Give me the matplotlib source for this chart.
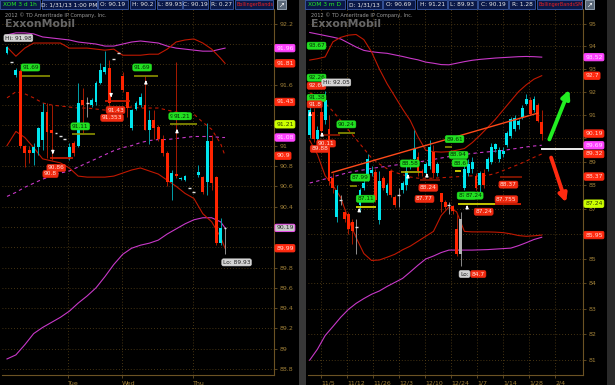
import math
import matplotlib
matplotlib.use('Agg')
import matplotlib.pyplot as plt
from matplotlib.patches import Rectangle
from matplotlib.ticker import FixedLocator, FuncFormatter, NullLocator

# ---------------- XOM 3 d 1h (left) ----------------
l_open = [91.91, 91.82, 91.70, 91.73, 91.00, 90.96, 90.93, 90.99, 91.06, 91.33,
          91.15, 91.12, 91.09, 91.07, 90.89, 91.03, 91.00, 91.45, 91.42, 91.40,
          91.43, 91.62, 91.72, 91.76, 91.85, 91.91, 91.69, 91.53, 91.17, 91.36,
          91.40, 91.40, 91.15, 91.25, 91.18, 91.07, 90.93, 90.64, 90.72, 90.67,
          90.66, 90.58, 90.54, 90.71, 90.69, 90.64, 91.05, 90.69, 90.04, 90.19]
l_close = [91.97, 91.82, 91.74, 91.00, 90.93, 90.93, 90.99, 91.17, 91.33, 91.13,
           91.12, 91.12, 91.09, 91.07, 90.99, 90.93, 91.42, 91.40, 91.42, 91.45,
           91.62, 91.74, 91.77, 91.42, 91.85, 91.91, 91.55, 91.37, 91.35, 91.42,
           91.48, 91.15, 91.25, 91.17, 91.07, 90.93, 90.64, 90.73, 90.70, 90.68,
           90.70, 90.58, 90.54, 90.74, 90.54, 91.05, 90.63, 90.04, 90.19, 90.19]
l_high = [91.98, 91.82, 91.76, 91.75, 91.01, 91.00, 91.03, 91.18, 91.42, 91.42,
          91.40, 91.12, 91.09, 91.07, 91.03, 91.05, 91.62, 91.57, 91.48, 91.47,
          91.64, 91.81, 91.93, 91.84, 91.85, 91.91, 91.72, 91.53, 91.36, 91.44,
          91.52, 91.69, 91.35, 91.35, 91.20, 91.10, 90.95, 90.76, 91.82, 90.69,
          90.71, 90.58, 90.54, 90.81, 90.70, 91.22, 91.10, 90.70, 90.29, 90.20]
l_low = [91.90, 91.82, 91.68, 90.98, 90.79, 90.83, 90.81, 90.91, 90.96, 90.88,
         90.86, 91.12, 91.09, 91.07, 90.86, 90.90, 90.99, 91.12, 91.28, 91.38,
         91.40, 91.61, 91.71, 91.35, 91.85, 91.91, 91.53, 91.28, 91.15, 91.35,
         91.38, 91.15, 91.02, 91.07, 91.05, 90.90, 90.60, 90.46, 90.68, 90.66,
         90.65, 90.58, 90.54, 90.69, 90.52, 90.51, 90.56, 90.02, 90.02, 89.93]

l_band_x = list(range(0, 49, 2)) + [49]
l_red_up = [91.97, 91.88, 91.96, 92.01, 92.01, 92.01, 92.01, 91.96, 91.96, 91.96, 91.95, 91.94, 91.95,
            91.89, 91.89, 91.89, 91.90, 91.90, 91.95, 92.02, 92.04, 92.05, 92.01, 91.95, 91.86, 91.81]
l_red_mid = [91.47, 91.53, 91.51, 91.47, 91.42, 91.40, 91.39, 91.38, 91.37, 91.37, 91.36, 91.35, 91.35,
             91.37, 91.38, 91.37, 91.37, 91.37, 91.35, 91.33, 91.32, 91.31, 91.23, 91.16, 91.02, 90.90]
l_red_lo = [91.00, 91.14, 91.08, 90.98, 90.87, 90.85, 90.83, 90.78, 90.70, 90.69, 90.69, 90.69, 90.70,
            90.73, 90.76, 90.78, 90.75, 90.72, 90.66, 90.60, 90.53, 90.48, 90.33, 90.25, 90.10, 89.99]
l_mag_up = [92.09, 92.11, 92.11, 92.10, 92.07, 92.06, 92.05, 92.04, 92.02, 92.01, 92.00, 91.98, 91.98,
            92.00, 92.02, 92.03, 92.02, 92.01, 91.98, 91.96, 91.95, 91.94, 91.93, 91.93, 91.95, 91.96]
l_mag_mid = [90.50, 90.54, 90.59, 90.63, 90.67, 90.70, 90.73, 90.75, 90.79, 90.83, 90.87, 90.91, 90.95,
             90.98, 91.00, 91.03, 91.05, 91.06, 91.06, 91.07, 91.08, 91.09, 91.09, 91.09, 91.08, 91.08]
l_mag_lo = [88.90, 88.94, 89.04, 89.15, 89.21, 89.26, 89.31, 89.37, 89.45, 89.52, 89.60, 89.71, 89.83,
            89.93, 89.99, 90.02, 90.04, 90.07, 90.13, 90.18, 90.23, 90.27, 90.29, 90.29, 90.25, 90.19]

l_yticks = [88.8, 89, 89.2, 89.4, 89.6, 89.8, 90, 90.2, 90.4, 90.6, 90.8, 91, 91.2, 91.4, 91.6, 91.8, 92, 92.2]
l_xlabels = ['Tue', 'Wed', 'Thu']
l_xticks = [13.7, 25.8, 41.8]

l_tags = [('91.69', 3.4, 'hi'), ('91.11', 14.6, 'hi'), ('91.69', 28.5, 'hi'),
          ('91.21', 36.6, 'hi'), ('91.21', 37.5, 'hi'),
          ('91.43', 22.5, 'lo'), ('91.353', 21.3, 'lo'), ('90.86', 9.2, 'lo'), ('90.8', 8.3, 'lo')]
l_levels = [(91.69, 3.4, 9.7, '#8c9200'), (91.11, 14.6, 19.8, '#8c9200'), (91.69, 28.5, 34.0, '#8c9200'),
            (91.21, 36.6, 42.7, '#8c9200'), (91.44, 22.0, 27.6, '#d41c00'), (90.88, 9.7, 14.8, '#d41c00')]
l_arrows = [(31.2, 91.67, 1), (38.2, 91.19, 1), (23.4, 91.45, -1), (10.3, 90.89, -1)]
l_axis = [(91.96, 'mag'), (91.81, 'red'), (91.43, 'red'), (91.21, 'yel'),
          (91.08, 'mag'), (90.9, 'red'), (90.19, 'grey'), (89.99, 'red')]

# ---------------- XOM 3 m D (right) ----------------
r_open = [90.15, 91.10, 89.94, 91.10, 90.78, 90.40, 88.30, 86.70, 87.40, 86.90,
          86.80, 86.50, 86.30, 87.20, 87.90, 88.40, 88.50, 88.55, 86.56, 88.30,
          87.70, 88.60, 87.50, 87.60, 87.80, 88.00, 88.80, 89.10, 89.20, 88.60,
          88.50, 88.80, 89.40, 88.50, 87.70, 87.30, 87.20, 87.15, 86.20, 85.20,
          87.90, 88.50, 88.70, 88.40, 88.00, 88.50, 88.70, 89.00, 89.55, 89.10,
          89.30, 89.70, 90.10, 90.40, 90.55, 90.90, 91.45, 91.65, 91.20, 91.40,
          90.69]
r_close = [91.20, 89.94, 90.36, 90.30, 91.64, 88.20, 87.90, 87.80, 87.40, 86.60,
           86.20, 86.10, 86.30, 87.80, 88.10, 89.10, 88.65, 87.40, 88.20, 87.90,
           88.00, 87.60, 87.20, 87.60, 88.10, 88.60, 89.05, 89.53, 88.60, 88.50,
           88.90, 89.60, 88.50, 88.90, 87.30, 87.10, 87.20, 86.95, 85.20, 86.60,
           88.70, 88.90, 89.00, 87.90, 88.50, 88.00, 89.10, 89.60, 89.75, 89.50,
           89.45, 90.20, 90.80, 90.85, 90.75, 91.30, 91.70, 91.05, 91.70, 90.75,
           90.19]
r_high = [91.40, 91.30, 90.50, 91.60, 92.05, 91.00, 88.50, 88.00, 87.60, 87.00,
          86.90, 86.60, 86.60, 87.90, 88.30, 89.30, 88.80, 88.70, 88.60, 88.40,
          88.10, 88.70, 87.60, 87.90, 88.20, 88.90, 89.10, 90.35, 89.40, 88.70,
          89.00, 89.90, 89.70, 89.00, 87.70, 87.40, 87.30, 87.20, 86.80, 86.90,
          89.00, 89.10, 89.20, 88.50, 88.60, 88.70, 89.20, 89.80, 89.80, 89.60,
          89.60, 90.30, 90.90, 91.00, 90.80, 91.40, 91.90, 91.75, 91.80, 91.50,
          91.21]
r_low = [90.00, 89.85, 89.80, 90.20, 90.60, 88.00, 87.70, 86.50, 87.20, 86.50,
         86.00, 85.60, 85.20, 86.90, 87.80, 88.20, 88.40, 87.30, 86.40, 87.80,
         87.60, 87.50, 87.10, 87.10, 87.70, 87.80, 88.70, 89.00, 88.40, 88.40,
         88.40, 88.70, 88.30, 88.40, 86.90, 87.00, 86.80, 86.80, 85.10, 84.70,
         87.80, 88.40, 88.50, 87.80, 87.50, 87.90, 88.60, 88.90, 89.40, 89.00,
         89.20, 89.60, 90.00, 90.30, 90.40, 90.80, 91.40, 91.00, 91.10, 90.70,
         89.93]
r_grey = [39]

r_band_x = list(range(0, 61, 2))
r_red_up = [93.39, 93.45, 93.53, 94.20, 94.40, 94.50, 94.53, 94.30, 93.75, 93.00, 92.35, 91.80, 91.25, 90.75, 90.05, 89.48,
            89.42, 89.40, 89.42, 89.48, 89.55, 89.80, 90.11, 90.45, 90.80, 91.20, 91.60, 92.00, 92.30, 92.55, 92.70]
r_red_mid = [91.95, 91.80, 91.50, 91.15, 90.75, 90.35, 89.95, 89.55, 89.15, 88.90, 88.70, 88.55, 88.45, 88.35, 88.30, 88.30,
             88.30, 88.32, 88.34, 88.36, 88.38, 88.40, 88.40, 88.42, 88.50, 88.62, 88.75, 88.88, 89.02, 89.18, 89.32]
r_red_lo = [89.90, 89.30, 88.40, 88.00, 87.50, 86.60, 85.85, 85.20, 84.92, 84.94, 85.05, 85.17, 85.35, 85.50, 85.70, 85.90,
            86.10, 86.75, 87.10, 86.90, 86.10, 86.08, 86.08, 86.08, 86.07, 86.05, 86.00, 85.93, 85.90, 85.92, 85.95]
r_mag_up = [94.62, 94.55, 94.48, 94.41, 94.33, 94.15, 93.97, 93.82, 93.76, 93.72, 93.69, 93.62, 93.55, 93.47, 93.40, 93.30,
            93.25, 93.19, 93.18, 93.25, 93.32, 93.38, 93.42, 93.45, 93.48, 93.50, 93.52, 93.54, 93.55, 93.54, 93.52]
r_mag_mid = [88.10, 88.18, 88.27, 88.36, 88.45, 88.54, 88.60, 88.65, 88.71, 88.76, 88.80, 88.85, 88.89, 88.93, 88.98, 89.03,
             89.09, 89.15, 89.21, 89.27, 89.30, 89.34, 89.38, 89.41, 89.44, 89.47, 89.52, 89.57, 89.62, 89.66, 89.69]
r_mag_lo = [81.00, 81.42, 81.95, 82.30, 82.66, 82.97, 83.21, 83.40, 83.57, 83.70, 83.88, 84.04, 84.20, 84.46, 84.73, 84.98,
            85.10, 85.24, 85.34, 85.34, 85.34, 85.34, 85.35, 85.36, 85.38, 85.40, 85.42, 85.52, 85.64, 85.77, 85.86]

r_yticks = list(range(81, 96))
r_xlabels = ['11/5', '11/12', '11/26', '12/3', '12/10', '12/24', '1/7', '1/14', '1/28', '2/4']
r_xticks = [2.92 + 6.724 * k for k in range(len(r_xlabels))]

r_tags = [('93.67', -0.4, 'hi'), ('92.26', -0.4, 'hi'), ('92.61', -0.4, 'lo'), ('91.38', -0.4, 'hi'),
          ('91.8', -0.4, 'lo'), ('90.24', 7.3, 'hi'), ('90.11', 2.1, 'lo'), ('89.88', 0.4, 'lo'),
          ('87.99', 10.9, 'hi'), ('87.11', 12.3, 'hi'), ('88.58', 23.7, 'hi'), ('88.24', 28.5, 'lo'),
          ('87.77', 27.5, 'lo'), ('89.61', 35.3, 'hi'), ('88.94', 36.3, 'hi'), ('88.6', 37.1, 'hi'),
          ('87.24', 38.4, 'hi'), ('87.24', 40.2, 'hi'), ('87.24', 42.8, 'lo'), ('88.37', 49.2, 'lo'),
          ('87.755', 48.2, 'lo'), ('84.7', 41.9, 'lo')]
r_levels = [(90.23, 7.3, 11.7, '#8c9200'), (90.11, 2.7, 7.8, '#901800'), (87.99, 10.5, 12.2, '#8c9200'),
            (87.11, 12.0, 17.2, '#e8e800'), (88.58, 23.7, 28.4, '#b0b000'), (88.24, 28.5, 33.7, '#901800'),
            (89.61, 35.0, 36.9, '#8c9200'), (88.6, 37.6, 39.0, '#e8e800'), (87.24, 38.4, 48.0, '#e8e800'),
            (87.24, 48.0, 54.6, '#e82000'), (88.37, 49.2, 54.9, '#901800')]
r_arrows = [(0.1, 91.25, 1), (3.2, 90.36, 1), (12.8, 87.17, 1), (25.4, 88.58, 1), (30.3, 88.62, 1), (40.7, 87.29, 1)]
r_axis = [(93.52, 'mag'), (92.7, 'red'), (90.19, 'red'), (89.69, 'mag'),
          (89.32, 'red'), (88.37, 'red'), (87.24, 'yel'), (85.95, 'red')]

hdr_left = [('XOM 3 d 1h', 0, 40), ('D: 1/31/13 1:00 PM', 42, 97), ('O: 90.19', 98, 128), ('H: 90.2', 130, 155),
            ('L: 89.93', 157, 182), ('C: 90.19', 183, 208), ('R: 0.27', 210, 233), ('BollingerBands', 235, 273)]
hdr_right = [('XOM 3 m D', 305, 345), ('D: 1/31/13', 347, 382), ('O: 90.69', 383, 415), ('H: 91.21', 417, 447),
             ('L: 89.93', 448, 477), ('C: 90.19', 478, 508), ('R: 1.28', 509, 535), ('BollingerBandsSM', 537, 582)]

W, H = 615, 385
fig = plt.figure(figsize=(6.15, 3.85), dpi=100, facecolor='black')


def px_axes(x0, y0, x1, y1):
    return fig.add_axes([x0 / W, (H - y1) / H, (x1 - x0) / W, (y1 - y0) / H])


def style(ax, yticks, xticks, xlabels, covered):
    ax.set_facecolor('black')
    for s in ['top', 'left']:
        ax.spines[s].set_visible(False)
    for s in ['right', 'bottom']:
        ax.spines[s].set_color('#6b5224')
        ax.spines[s].set_linewidth(0.8)
    ax.yaxis.tick_right()
    ax.yaxis.set_major_locator(FixedLocator(yticks))
    ax.yaxis.set_minor_locator(NullLocator())
    # tick labels that sit under a price box are not shown
    ax.yaxis.set_major_formatter(FuncFormatter(lambda v, p: '' if covered(v) else '%g' % v))
    ax.set_xticks(xticks)
    ax.set_xticklabels(xlabels)
    for t in ax.get_xticklabels():
        t.set_ha('left')
    ax.tick_params(colors='#6b5224', labelcolor='#a08038', labelsize=4.5, length=2.5, width=0.6, pad=1.5)
    ax.grid(True, color='#5c4519', ls=(0, (1, 2.5)), lw=0.6)
    ax.set_axisbelow(True)


def candles(ax, o, h, l, c, w, grey=()):
    for i in range(len(o)):
        if i in grey:
            body, wick = '#b4b4b4', '#8a8a8a'
        elif c[i] > o[i]:
            body, wick = '#00e5ee', '#00a0aa'
        elif c[i] < o[i]:
            body, wick = '#ff2400', '#a81a00'
        else:
            body, wick = '#e0e0e0', '#909090'
        ax.vlines(i, l[i], h[i], color=wick, lw=0.7, zorder=3)
        lo, hi = min(o[i], c[i]), max(o[i], c[i])
        if hi - lo < 0.005:
            ax.hlines(o[i], i - w / 2, i + w / 2, color=body, lw=1.0, zorder=4)
        else:
            ax.add_patch(Rectangle((i - w / 2, lo), w, hi - lo, fc=body, ec='none', zorder=4))


def bands(ax, x, up, mid, lo, color):
    ax.plot(x, up, color=color, lw=0.8, zorder=2)
    ax.plot(x, mid, color=color, lw=0.8, ls=(0, (3, 3)), zorder=2)
    ax.plot(x, lo, color=color, lw=0.8, zorder=2)


TAGS = {'hi': ('#22e022', '#053005', 1), 'lo': ('#f02a10', '#ffe0d8', -1),
        'Hi': ('#d4d4d4', '#202020', 1), 'Lo': ('#d4d4d4', '#202020', -1)}


def tag(ax, text, x, level, kind):
    fc, tc, d = TAGS[kind]
    ax.annotate(text, xy=(x, level), xytext=(0, d * 5.8), textcoords='offset points',
                ha='left', va='center', fontsize=4.2, color=tc, zorder=8, annotation_clip=False,
                bbox=dict(boxstyle='round,pad=0.18,rounding_size=0.3', fc=fc, ec=fc, lw=0.4))


AXIS = {'mag': ('#ff44ff', '#ffe0ff', '#ff44ff'), 'red': ('#ff2a10', '#ffd8d0', '#ff2a10'),
        'yel': ('#ccff00', '#304000', '#ccff00'), 'grey': ('#c8c8c8', '#303030', '#ff44ff')}


def axis_box(ax, price, kind):
    fc, tc, ec = AXIS[kind]
    ax.text(1.008, price, '%g' % price, transform=ax.get_yaxis_transform(), fontsize=4.4,
            color=tc, ha='left', va='center', clip_on=False, zorder=10,
            bbox=dict(boxstyle='round,pad=0.2,rounding_size=0.25', fc=fc, ec=ec, lw=0.6))


def small_arrow(ax, x, tip, d):
    ax.annotate('', xy=(x, tip), xytext=(0, -5 * d), textcoords='offset points', zorder=7,
                arrowprops=dict(arrowstyle='-|>', color='white', lw=0.9, mutation_scale=4))


# ---- left panel ----
ax1 = px_axes(2, 9, 274, 375)
style(ax1, l_yticks, l_xticks, l_xlabels,
      lambda v: any(abs(v - p) * 101.6 < 5.5 for p, k in l_axis))
ax1.set_xlim(-1.124, 60.0)
ax1.set_ylim(88.742, 92.345)
bands(ax1, l_band_x, l_mag_up, l_mag_mid, l_mag_lo, '#c838c8')
bands(ax1, l_band_x, l_red_up, l_red_mid, l_red_lo, '#c01800')
candles(ax1, l_open, l_high, l_low, l_close, 0.65)
for lev, x0, x1, col in l_levels:
    ax1.hlines(lev, x0, x1, color=col, lw=1.2, zorder=5)
for txt, x, kind in l_tags:
    tag(ax1, txt, x, float(txt), kind)
tag(ax1, 'Hi: 91.98', -0.45, 91.98, 'Hi')
tag(ax1, 'Lo: 89.93', 48.5, 89.93, 'Lo')
for x, tip, d in l_arrows:
    small_arrow(ax1, x, tip, d)
for p, k in l_axis:
    axis_box(ax1, p, k)

# ---- right panel ----
ax2 = px_axes(308, 9, 583, 375)
ax2.set_yscale('log')
style(ax2, r_yticks, r_xticks, r_xlabels,
      lambda v: any(abs(math.log(v / p)) * 2108 < 5.5 for p, k in r_axis))
ax2.set_xlim(-0.44, 70.67)
ax2.set_ylim(80.43, 95.68)
bands(ax2, r_band_x, r_mag_up, r_mag_mid, r_mag_lo, '#c838c8')
bands(ax2, r_band_x, r_red_up, r_red_mid, r_red_lo, '#c01800')
ax2.plot([5.77, 59.0], [88.54, 91.07], color='#ff4a1a', lw=1.0, zorder=5)
candles(ax2, r_open, r_high, r_low, r_close, 0.75, r_grey)
for lev, x0, x1, col in r_levels:
    ax2.hlines(lev, x0, x1, color=col, lw=1.2, zorder=5)
for txt, x, kind in r_tags:
    tag(ax2, txt, x, float(txt), kind)
tag(ax2, 'Hi: 92.05', 3.4, 92.05, 'Hi')
tag(ax2, 'Lo:', 38.9, 84.7, 'Lo')
for x, tip, d in r_arrows:
    small_arrow(ax2, x, tip, d)
ax2.hlines(89.53, 59.9, 70.67, color='white', lw=1.3, zorder=6)
ax2.annotate('', xy=(67.4, 92.2), xytext=(61.7, 89.83), zorder=9,
             arrowprops=dict(arrowstyle='-|>', color='#22ee22', lw=2.8, mutation_scale=12))
ax2.annotate('', xy=(66.5, 87.18), xytext=(62.2, 89.28), zorder=9,
             arrowprops=dict(arrowstyle='-|>', color='#ff2a10', lw=2.8, mutation_scale=12))
for p, k in r_axis:
    axis_box(ax2, p, k)

# ---- frame pieces ----
fig.add_artist(Rectangle((299 / W, 0), 7 / W, 1, transform=fig.transFigure, fc='#383838', ec='none'))
fig.add_artist(Rectangle((607 / W, 0), 8 / W, 1, transform=fig.transFigure, fc='#2a2a2a', ec='none'))


def header(items, first_col, last_col, icon_x):
    for n, (txt, x0, x1) in enumerate(items):
        fig.add_artist(Rectangle((x0 / W, (H - 8.5) / H), (x1 - x0) / W, 8 / H, transform=fig.transFigure,
                                 fc='#0a1848', ec='#3a5aa8', lw=0.6))
        if n == len(items) - 1:
            fig.text((x0 + 1.5) / W, (H - 4.6) / H, txt, color=last_col, fontsize=3.5, ha='left', va='center')
        else:
            col = first_col if n == 0 else '#e8e8e8'
            fig.text((x0 + x1) / 2 / W, (H - 4.6) / H, txt, color=col, fontsize=4.2, ha='center', va='center')
    fig.add_artist(Rectangle((icon_x / W, (H - 9) / H), 9 / W, 9 / H, transform=fig.transFigure,
                             fc='#5a6878', ec='#a0b0c0', lw=0.6))
    fig.text((icon_x + 4.5) / W, (H - 4.6) / H, '\u2197', color='white', fontsize=5, ha='center', va='center')


header(hdr_left, '#22ee22', '#ee2020', 277)
header(hdr_right, '#22ee22', '#ee2020', 585)

for x0 in (5, 311):
    fig.text(x0 / W, (H - 15) / H, '2012 \u00a9 TD Ameritrade IP Company, Inc.', color='#9a9a9a',
             fontsize=3.6, ha='left', va='center')
    fig.text(x0 / W, (H - 24) / H, 'ExxonMobil', color='#727272', fontsize=7.8,
             fontweight='bold', ha='left', va='center', alpha=0.9)

fig.savefig('out.png', dpi=100, facecolor='black')
